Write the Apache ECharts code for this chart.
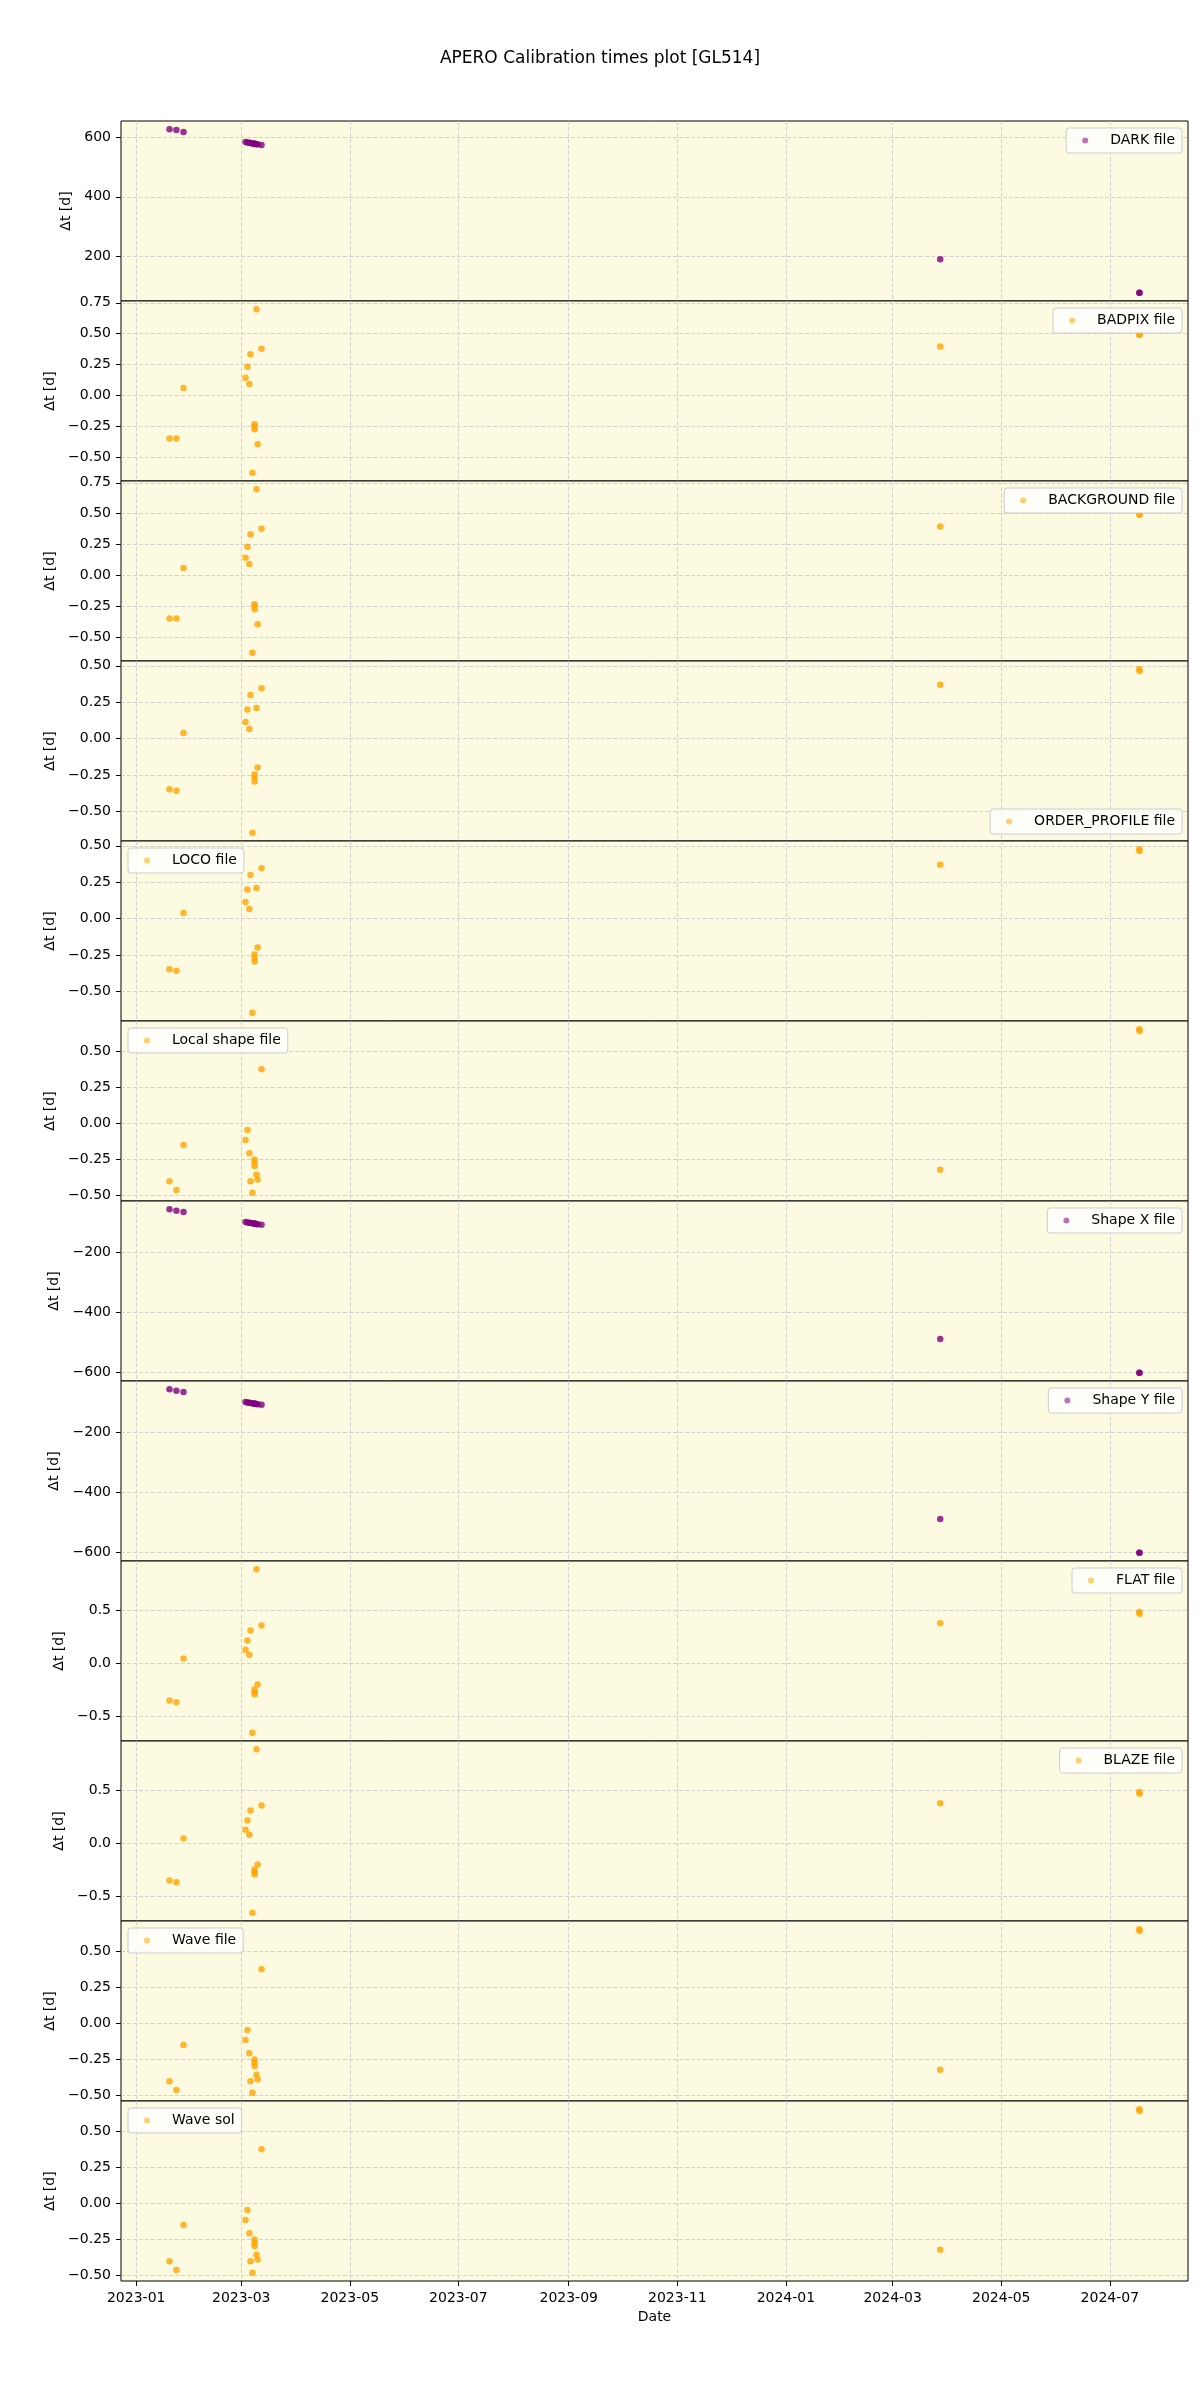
<!DOCTYPE html>
<html>
<head>
<meta charset="utf-8">
<script src="https://cdn.jsdelivr.net/npm/echarts@6/dist/echarts.min.js"></script>
<style>html,body{margin:0;padding:0;background:#fff}#chart{width:1200px;height:2400px}</style>
</head>
<body>
<div id="chart"></div>
<script>
// ---------- DATA ----------
const obsDates = [
  '2023-01-19 17:00', '2023-01-23 14:00', '2023-01-27 14:00',
  '2023-03-03 10:00', '2023-03-04 12:00', '2023-03-05 14:00', '2023-03-06 05:00',
  '2023-03-07 07:00', '2023-03-08 11:00', '2023-03-08 12:00', '2023-03-08 13:00',
  '2023-03-09 14:00', '2023-03-10 05:00', '2023-03-12 10:00',
  '2024-03-27 17:00', '2024-07-17 14:00', '2024-07-17 16:00'
];
const darkDt        = [626, 623, 617, 583, 581.5, 580.5, 580, 578.5, 577.5, 577.2, 577, 576, 575.5, 573, 192, 80, 79.5];
const badpixDt      = [-0.35, -0.35, 0.06, 0.143, 0.231, 0.092, 0.334, -0.627, -0.233, -0.25, -0.274, 0.698, -0.396, 0.378, 0.396, 0.494, 0.49];
const backgroundDt  = [-0.35, -0.35, 0.06, 0.143, 0.231, 0.092, 0.334, -0.627, -0.233, -0.25, -0.274, 0.698, -0.396, 0.378, 0.396, 0.494, 0.49];
const orderProfileDt= [-0.346, -0.356, 0.04, 0.114, 0.20, 0.066, 0.30, -0.645, -0.245, -0.268, -0.293, 0.211, -0.197, 0.346, 0.37, 0.477, 0.465];
const locoDt        = [-0.346, -0.356, 0.04, 0.114, 0.20, 0.066, 0.30, -0.645, -0.245, -0.268, -0.293, 0.211, -0.197, 0.346, 0.37, 0.477, 0.465];
const localShapeDt  = [-0.40, -0.46, -0.15, -0.115, -0.045, -0.206, -0.40, -0.48, -0.25, -0.27, -0.295, -0.355, -0.388, 0.374, -0.32, 0.652, 0.64];
const shapeXDt      = [-56, -61, -65, -99, -100, -101, -102, -103, -104, -104.2, -104.5, -105, -106, -108, -489, -601, -601.5];
const shapeYDt      = [-56, -61, -65, -99, -100, -101, -102, -103, -104, -104.2, -104.5, -105, -106, -108, -489, -601, -601.5];
const flatDt        = [-0.353, -0.37, 0.044, 0.127, 0.216, 0.08, 0.31, -0.66, -0.25, -0.273, -0.295, 0.892, -0.202, 0.358, 0.38, 0.485, 0.47];
const blazeDt       = [-0.353, -0.37, 0.044, 0.127, 0.216, 0.08, 0.31, -0.66, -0.25, -0.273, -0.295, 0.892, -0.202, 0.358, 0.38, 0.485, 0.47];
const waveDt        = [-0.40, -0.46, -0.15, -0.115, -0.045, -0.206, -0.40, -0.48, -0.25, -0.27, -0.295, -0.355, -0.388, 0.374, -0.32, 0.652, 0.64];
const waveSolDt     = [-0.40, -0.46, -0.15, -0.115, -0.045, -0.206, -0.40, -0.48, -0.25, -0.27, -0.295, -0.355, -0.388, 0.374, -0.32, 0.652, 0.64];

const panelNames = ['DARK file', 'BADPIX file', 'BACKGROUND file', 'ORDER_PROFILE file', 'LOCO file',
  'Local shape file', 'Shape X file', 'Shape Y file', 'FLAT file', 'BLAZE file', 'Wave file', 'Wave sol'];

const xTickDates  = ['2023-01-01', '2023-03-01', '2023-05-01', '2023-07-01', '2023-09-01', '2023-11-01',
                     '2024-01-01', '2024-03-01', '2024-05-01', '2024-07-01'];
const xTickLabels = ['2023-01', '2023-03', '2023-05', '2023-07', '2023-09', '2023-11',
                     '2024-01', '2024-03', '2024-05', '2024-07'];

const darkTicks = [200, 400, 600];
const darkTickLabels = ['200', '400', '600'];
const quarterTicks6 = [-0.5, -0.25, 0, 0.25, 0.5, 0.75];
const quarterTickLabels6 = ['\u22120.50', '\u22120.25', '0.00', '0.25', '0.50', '0.75'];
const quarterTicks5 = [-0.5, -0.25, 0, 0.25, 0.5];
const quarterTickLabels5 = ['\u22120.50', '\u22120.25', '0.00', '0.25', '0.50'];
const shapeTicks = [-600, -400, -200];
const shapeTickLabels = ['\u2212600', '\u2212400', '\u2212200'];
const halfTicks = [-0.5, 0, 0.5];
const halfTickLabels = ['\u22120.5', '0.0', '0.5'];

// ---------- BUILD ----------
const PURPLE = '#800080', ORANGE = '#FFA500';
const panels = [
  {vals: darkDt, color: PURPLE, ticks: darkTicks, labels: darkTickLabels, leg: 'ur'},
  {vals: badpixDt, color: ORANGE, ticks: quarterTicks6, labels: quarterTickLabels6, leg: 'ur'},
  {vals: backgroundDt, color: ORANGE, ticks: quarterTicks6, labels: quarterTickLabels6, leg: 'ur'},
  {vals: orderProfileDt, color: ORANGE, ticks: quarterTicks5, labels: quarterTickLabels5, leg: 'lr'},
  {vals: locoDt, color: ORANGE, ticks: quarterTicks5, labels: quarterTickLabels5, leg: 'ul'},
  {vals: localShapeDt, color: ORANGE, ticks: quarterTicks5, labels: quarterTickLabels5, leg: 'ul'},
  {vals: shapeXDt, color: PURPLE, ticks: shapeTicks, labels: shapeTickLabels, leg: 'ur'},
  {vals: shapeYDt, color: PURPLE, ticks: shapeTicks, labels: shapeTickLabels, leg: 'ur'},
  {vals: flatDt, color: ORANGE, ticks: halfTicks, labels: halfTickLabels, leg: 'ur'},
  {vals: blazeDt, color: ORANGE, ticks: halfTicks, labels: halfTickLabels, leg: 'ur'},
  {vals: waveDt, color: ORANGE, ticks: quarterTicks5, labels: quarterTickLabels5, leg: 'ul'},
  {vals: waveSolDt, color: ORANGE, ticks: quarterTicks5, labels: quarterTickLabels5, leg: 'ul'}
];

function toUTC(s) {
  const iso = s.length > 10 ? s.replace(' ', 'T') + ':00Z' : s + 'T00:00:00Z';
  return new Date(iso).getTime();
}
const obsTimes = obsDates.map(toUTC);
const xTickTimes = xTickDates.map(toUTC);
function padRange(arr) {
  const mn = Math.min(...arr), mx = Math.max(...arr), r = mx - mn;
  return [mn - 0.05 * r, mx + 0.05 * r];
}
const xRange = padRange(obsTimes);

const FONT = 'DejaVu Sans';
const LEFT = 121, WIDTH = 1067, TOP = 121, H = 180, N = panels.length;
const grids = [], xAxes = [], yAxes = [], series = [], legends = [];

panels.forEach((p, i) => {
  const top = TOP + H * i;
  const last = i === N - 1;
  grids.push({left: LEFT, width: WIDTH, top: top, height: H, show: true,
    backgroundColor: '#FCFAE1', borderColor: '#000', borderWidth: 1});
  xAxes.push({
    type: 'value', gridIndex: i, min: xRange[0], max: xRange[1], position: 'bottom',
    axisLine: {show: false, onZero: false},
    axisTick: {show: last, length: 5, lineStyle: {color: '#000', width: 1}, customValues: xTickTimes},
    axisLabel: {show: last, margin: 10, fontFamily: FONT, fontSize: 14, color: '#000',
      customValues: xTickTimes,
      formatter: v => { const k = xTickTimes.findIndex(t => Math.abs(t - v) < 3600000); return k >= 0 ? xTickLabels[k] : ''; }},
    splitLine: {show: true, lineStyle: {color: '#c8c8c8', width: 0.8, type: [4, 2]}},
    name: last ? 'Date' : '', nameLocation: 'middle', nameGap: 29,
    nameTextStyle: {fontFamily: FONT, fontSize: 14, color: '#000'}
  });
  const yr = padRange(p.vals);
  yAxes.push({
    type: 'value', gridIndex: i, min: yr[0], max: yr[1], position: 'left',
    axisLine: {show: false, onZero: false},
    axisTick: {show: true, length: 5, lineStyle: {color: '#000', width: 1}, customValues: p.ticks},
    axisLabel: {margin: 10, fontFamily: FONT, fontSize: 14, color: '#000', customValues: p.ticks,
      formatter: v => { const k = p.ticks.findIndex(t => Math.abs(t - v) < 1e-6); return k >= 0 ? p.labels[k] : ''; }},
    splitLine: {show: true, lineStyle: {color: '#c8c8c8', width: 0.8, type: [4, 2]}},
    name: '\u0394t [d]', nameLocation: 'middle', nameGap: 41, nameRotate: 90,
    nameTextStyle: {fontFamily: FONT, fontSize: 14, color: '#000'}
  });
  series.push({
    type: 'scatter', name: panelNames[i], xAxisIndex: i, yAxisIndex: i,
    data: obsTimes.map((t, j) => [t, p.vals[j]]),
    symbol: 'circle', symbolSize: 6.5,
    itemStyle: {color: p.color, opacity: 0.8},
    emphasis: {disabled: true}, silent: true
  });
  const leg = {
    data: [panelNames[i]], orient: 'horizontal', icon: 'circle',
    itemWidth: 6, itemHeight: 6, itemGap: 0,
    itemStyle: {opacity: 0.55},
    textStyle: {fontFamily: FONT, fontSize: 14, color: '#000', lineHeight: 17, padding: [0, 0, 0, 17]},
    backgroundColor: 'rgba(255,255,255,0.8)', borderColor: '#cccccc', borderWidth: 1, borderRadius: 3,
    padding: [4, 7, 4, 16], selectedMode: false
  };
  if (p.leg === 'ur') { leg.right = 18; leg.top = top + 7; }
  else if (p.leg === 'lr') { leg.right = 18; leg.top = top + H - 7 - 25; }
  else { leg.left = LEFT + 7; leg.top = top + 7; }
  legends.push(leg);
});

const chart = echarts.init(document.getElementById('chart'), null, {renderer: 'canvas'});
chart.setOption({
  animation: false,
  backgroundColor: '#ffffff',
  title: {text: 'APERO Calibration times plot [GL514]', left: 'center', top: 45,
    textStyle: {fontFamily: FONT, fontSize: 17, fontWeight: 'normal', color: '#000'}},
  grid: grids, xAxis: xAxes, yAxis: yAxes, series: series, legend: legends
});
</script>
</body>
</html>
